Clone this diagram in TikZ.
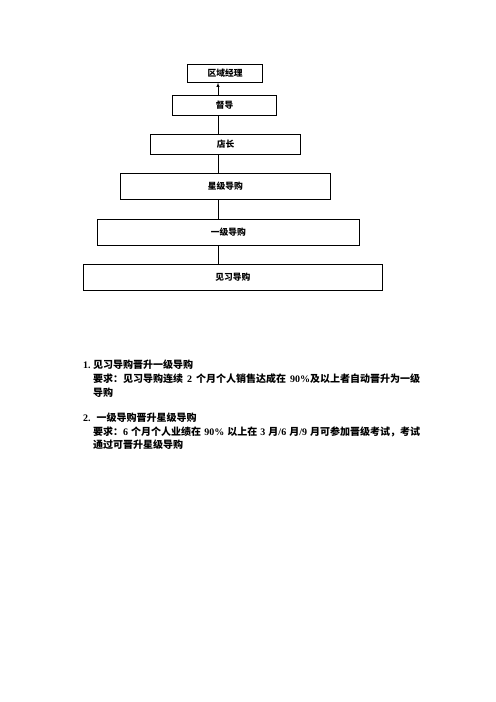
\documentclass[tikz,border=0pt]{standalone}
\usepackage{fontspec}
\setmainfont{Liberation Serif}
\newfontfamily\cjk{Noto Sans CJK SC}
\XeTeXlinebreaklocale "zh"
\XeTeXlinebreakskip=0pt plus 1pt
\newcommand\zh[1]{{\cjk #1}}

\begin{document}
\begin{tikzpicture}[x=1.2pt,y=-1.2pt,
  post/.style={rectangle,draw,line width=0.8pt,inner sep=0pt,font=\bfseries\fontsize{10.5}{12}\selectfont},
  note/.style={anchor=west,inner sep=0pt,font=\bfseries\fontsize{12}{14}\selectfont}]
\useasboundingbox (0,0) rectangle (496,702);
\node [post,minimum width=90.5pt,minimum height=21.6pt] (qyjl) at (225,73.3) {\zh{区域经理}};
\node [post,minimum width=125.3pt,minimum height=24.8pt] (dd) at (224.5,105.3) {\zh{督导}};
\node [post,minimum width=180.5pt,minimum height=24pt] (dz) at (225.5,144.3) {\zh{店长}};
\node [post,minimum width=252.8pt,minimum height=30.8pt] (xjdg) at (225.3,186.2) {\zh{星级导购}};
\node [post,minimum width=314.4pt,minimum height=31.7pt] (yjdg) at (228.3,232.5) {\zh{一级导购}};
\node [post,minimum width=358.8pt,minimum height=30.8pt] (jxdg) at (232.8,277.2) {\zh{见习导购}};
\coordinate (axis) at (218,0);
\draw [-latex,line width=0.8pt]
  (axis |- jxdg.north) -- (axis |- yjdg.south)
  (axis |- yjdg.north) -- (axis |- xjdg.south)
  (axis |- xjdg.north) -- (axis |- dz.south)
  (axis |- dz.north) -- (axis |- dd.south)
  (axis |- dd.north) -- (axis |- qyjl.south);

\node [note] (h1) at (83,365) {\makebox[12pt][l]{1.}\zh{见习导购晋升一级导购}};
\node [note] (r1) at (93,379) {\makebox[392.4pt][s]{\zh{要求：见习导购连续} 2 \zh{个月个人销售达成在} 90\%\zh{及以上者自动晋升为一级}}};
\node [note] (r1b) at (93,393) {\zh{导购}};
\node [note] (h2) at (83,418) {\makebox[16pt][l]{2.}\zh{一级导购晋升星级导购}};
\node [note] (r2) at (93,432) {\makebox[392.4pt][s]{\zh{要求：}6 \zh{个月个人业绩在} 90\% \zh{以上在} 3 \zh{月}/6 \zh{月}/9 \zh{月可参加晋级考试，考试}}};
\node [note] (r2b) at (93,445) {\zh{通过可晋升星级导购}};
\end{tikzpicture}
\end{document}
